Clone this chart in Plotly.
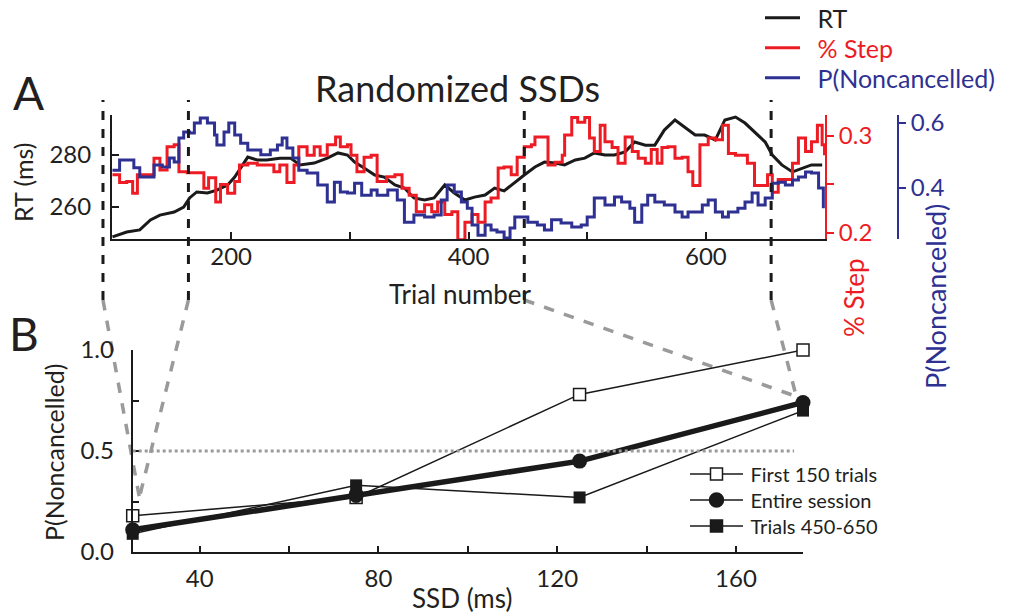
import plotly.graph_objects as go

# ---------------- Panel A data ----------------
rt_trial = [100, 112, 123, 132, 140, 152, 160, 165, 171, 180, 188, 197, 203, 208, 214, 222, 230, 241, 250,
            258, 270, 281, 290, 298, 304, 312, 321, 329, 338, 346, 354, 363, 371, 380, 388, 397, 405, 414,
            422, 430, 439, 447, 456, 464, 473, 481, 490, 498, 506, 515, 523, 532, 540, 549, 557, 565, 574,
            582, 591, 599, 608, 616, 625, 633, 641, 650, 656, 664, 673, 681, 689, 698]
rt_ms = [248.5, 250.4, 251.2, 255.0, 256.9, 258.1, 260.0, 263.5, 265.8, 265.4, 266.5, 268.5, 271.5, 275.0,
         279.2, 278.1, 278.1, 278.8, 278.8, 276.2, 276.9, 278.8, 280.8, 280.0, 277.3, 275.0, 272.3, 271.5,
         268.5, 267.3, 263.5, 262.7, 263.5, 268.5, 265.4, 262.7, 263.8, 264.6, 267.3, 266.2, 269.6, 272.3,
         275.4, 277.3, 276.9, 276.2, 278.1, 278.8, 280.8, 280.0, 280.0, 281.2, 285.0, 283.8, 283.8, 289.6,
         293.5, 290.8, 287.7, 287.7, 285.8, 293.5, 294.6, 292.3, 288.8, 285.0, 280.0, 276.2, 273.5, 275.0,
         276.2, 276.2]

step_trial = [100, 106, 112, 117, 121, 129, 135, 140, 146, 152, 156, 163, 171, 177, 181, 187, 191, 197, 203,
              207, 214, 222, 230, 236, 241, 247, 253, 257, 264, 270, 275, 281, 288, 292, 298, 301, 306, 312,
              318, 323, 331, 338, 344, 350, 356, 363, 369, 374, 380, 386, 391, 397, 403, 408, 414, 419, 425,
              430, 436, 441, 447, 453, 456, 462, 467, 473, 479, 481, 487, 492, 498, 502, 506, 511, 515, 521,
              526, 532, 538, 543, 549, 554, 559, 563, 568, 574, 580, 585, 589, 595, 602, 608, 614, 619, 625,
              630, 635, 641, 647, 652, 656, 661, 667, 673, 678, 684, 689, 694, 698, 700]
step_frac = [0.260, 0.252, 0.253, 0.241, 0.260, 0.260, 0.277, 0.265, 0.289, 0.291, 0.263, 0.262, 0.262,
             0.246, 0.257, 0.232, 0.250, 0.241, 0.253, 0.270, 0.272, 0.270, 0.270, 0.263, 0.270, 0.252,
             0.270, 0.289, 0.280, 0.289, 0.280, 0.291, 0.299, 0.289, 0.291, 0.280, 0.263, 0.278, 0.280,
             0.253, 0.258, 0.260, 0.246, 0.239, 0.222, 0.229, 0.222, 0.232, 0.219, 0.222, 0.193, 0.211,
             0.219, 0.211, 0.232, 0.236, 0.267, 0.268, 0.260, 0.278, 0.289, 0.291, 0.299, 0.299, 0.270,
             0.273, 0.280, 0.301, 0.319, 0.314, 0.319, 0.298, 0.284, 0.311, 0.294, 0.288, 0.272, 0.299,
             0.284, 0.277, 0.272, 0.286, 0.272, 0.288, 0.289, 0.277, 0.278, 0.263, 0.249, 0.291, 0.298,
             0.296, 0.311, 0.282, 0.280, 0.280, 0.272, 0.249, 0.249, 0.260, 0.242, 0.255, 0.255, 0.272,
             0.298, 0.284, 0.294, 0.311, 0.291, 0.280]

pnc_trial = [100, 106, 115, 118, 123, 129, 135, 142, 148, 152, 156, 160, 165, 169, 174, 180, 186, 188, 194,
             198, 203, 208, 214, 219, 225, 233, 239, 243, 247, 252, 257, 264, 273, 281, 287, 292, 298, 304,
             310, 318, 323, 332, 340, 346, 354, 363, 371, 377, 382, 388, 394, 399, 403, 408, 414, 419, 424,
             430, 435, 439, 446, 450, 458, 464, 470, 478, 487, 495, 500, 506, 515, 523, 529, 536, 540, 546,
             551, 557, 565, 574, 580, 585, 591, 597, 602, 608, 614, 619, 627, 633, 639, 644, 650, 656, 661,
             667, 673, 678, 684, 689, 695, 699]
pnc_prob = [0.455, 0.486, 0.486, 0.462, 0.434, 0.434, 0.471, 0.465, 0.492, 0.480, 0.554, 0.572, 0.569,
            0.600, 0.615, 0.600, 0.563, 0.532, 0.572, 0.600, 0.563, 0.538, 0.517, 0.517, 0.502, 0.517,
            0.532, 0.554, 0.523, 0.492, 0.455, 0.446, 0.409, 0.357, 0.418, 0.388, 0.385, 0.415, 0.378,
            0.394, 0.378, 0.394, 0.363, 0.295, 0.317, 0.311, 0.317, 0.363, 0.409, 0.388, 0.357, 0.338,
            0.286, 0.255, 0.286, 0.271, 0.265, 0.246, 0.277, 0.311, 0.311, 0.295, 0.286, 0.271, 0.302,
            0.292, 0.280, 0.286, 0.311, 0.369, 0.348, 0.372, 0.357, 0.338, 0.295, 0.348, 0.378, 0.357,
            0.348, 0.326, 0.311, 0.326, 0.326, 0.348, 0.363, 0.326, 0.311, 0.326, 0.338, 0.357, 0.385,
            0.348, 0.369, 0.415, 0.418, 0.409, 0.425, 0.434, 0.449, 0.446, 0.400, 0.338]

# trial positions of the dashed window markers
window_trials = [92, 164, 447, 655]

# ---------------- Panel B data ----------------
ssd = [25, 75, 125, 175]
first150 = [0.18, 0.27, 0.78, 1.00]
entire = [0.11, 0.28, 0.45, 0.74]
trials450_650 = [0.09, 0.33, 0.27, 0.70]

# ---------------- styles ----------------
W, H = 1026, 616
FONT = "Lato"
TXT = "#231f20"
BLACK = "#1a1a1a"
RED = "#ed1c24"
BLUE = "#2e3192"
GREY = "#9a9a9a"

XA_DOM = [112 / W, 825 / W]
XA_RNG = [99.6, 700.4]
YA_DOM = [1 - 239 / H, 1 - 115 / H]
XB_DOM = [132.7 / W, 803 / W]
XB_RNG = [25, 175]
YB_DOM = [1 - 552 / H, 1 - 350 / H]
YB_RNG = [0, 1]


def lin(v, rng, dom):
    return dom[0] + (v - rng[0]) / (rng[1] - rng[0]) * (dom[1] - dom[0])


fig = go.Figure()

# Panel A traces
fig.add_trace(go.Scatter(x=rt_trial, y=rt_ms, mode="lines", name="\u2002RT",
                         line=dict(color=BLACK, width=3), xaxis="x", yaxis="y", legend="legend"))
fig.add_trace(go.Scatter(x=pnc_trial, y=pnc_prob, mode="lines",
                         name=f"\u2002<span style='color:{BLUE}'>P(Noncancelled)</span>",
                         line=dict(color=BLUE, width=3, shape="hv"), xaxis="x", yaxis="y3",
                         legend="legend3"))
fig.add_trace(go.Scatter(x=step_trial, y=step_frac, mode="lines",
                         name=f"\u2002<span style='color:{RED}'>% Step</span>",
                         line=dict(color=RED, width=3, shape="hv"), xaxis="x", yaxis="y2",
                         legend="legend2"))

# Panel B traces
fig.add_trace(go.Scatter(x=ssd, y=first150, mode="lines+markers", showlegend=False,
                         line=dict(color=BLACK, width=1.5),
                         marker=dict(symbol="square", size=12, color="white",
                                     line=dict(color=BLACK, width=1.5)),
                         xaxis="x2", yaxis="y4", cliponaxis=False))
fig.add_trace(go.Scatter(x=ssd, y=trials450_650, mode="lines+markers", showlegend=False,
                         line=dict(color=BLACK, width=1.5),
                         marker=dict(symbol="square", size=12, color=BLACK),
                         xaxis="x2", yaxis="y4", cliponaxis=False))
fig.add_trace(go.Scatter(x=ssd, y=entire, mode="lines+markers", showlegend=False,
                         line=dict(color=BLACK, width=5.5),
                         marker=dict(symbol="circle", size=15, color=BLACK),
                         xaxis="x2", yaxis="y4", cliponaxis=False))
# legend proxies for panel B (thin lines in the key)
for nm, sym, fc, lg in [("First 150 trials", "square", "white", "legend4"),
                        ("Entire session", "circle", BLACK, "legend5"),
                        ("Trials 450-650", "square", BLACK, "legend6")]:
    fig.add_trace(go.Scatter(x=[None], y=[None], mode="lines+markers", name="\u2009" + nm,
                             line=dict(color=BLACK, width=1.5),
                             marker=dict(symbol=sym, size=12 if sym == "square" else 14, color=fc,
                                         line=dict(color=BLACK, width=1.5)),
                             xaxis="x2", yaxis="y4", legend=lg))

axis_common = dict(showgrid=False, zeroline=False, showline=True, linewidth=2, automargin=False,
                   tickfont=dict(family=FONT, size=24, color=TXT))


def leg(x, y, size, iw):
    return dict(x=x / W, y=1 - y / H, xanchor="left", yanchor="middle",
                font=dict(family=FONT, size=size, color=TXT), bgcolor="rgba(0,0,0,0)",
                itemwidth=iw, borderwidth=0)


fig.update_layout(
    width=W, height=H, margin=dict(l=0, r=0, t=0, b=0, pad=0, autoexpand=False),
    paper_bgcolor="white", plot_bgcolor="white",
    font=dict(family=FONT, color=TXT),
    xaxis=dict(domain=XA_DOM, range=XA_RNG, anchor="y", linecolor=BLACK,
               ticks="inside", ticklen=7, tickwidth=2, tickcolor=BLACK,
               tickvals=[200, 300, 400, 500, 600], ticktext=["200", "", "400", "", "600"],
               ticklabelstandoff=-5, **axis_common),
    yaxis=dict(domain=YA_DOM, range=[247.7, 295.4], anchor="x", linecolor=BLACK,
               ticks="inside", ticklen=7, tickwidth=2, tickcolor=BLACK,
               tickvals=[260, 280], ticklabelstandoff=14, **axis_common),
    yaxis2=dict(range=[0.1938, 0.3216], overlaying="y", side="right", anchor="x",
                linecolor=RED, ticks="outside", ticklen=7, tickwidth=2, tickcolor=RED,
                tickvals=[0.2, 0.25, 0.3], ticktext=["0.2", "", "0.3"], automargin=False,
                showgrid=False, zeroline=False, showline=True, linewidth=2,
                tickfont=dict(family=FONT, size=24, color=RED)),
    yaxis3=dict(range=[0.2431, 0.6246], overlaying="y", side="right", anchor="free",
                position=898 / W, linecolor=BLUE, ticks="outside", ticklen=7, tickwidth=2,
                tickcolor=BLUE, tickvals=[0.4, 0.6], ticktext=["0.4", "0.6"], automargin=False,
                showgrid=False, zeroline=False, showline=True, linewidth=2,
                tickfont=dict(family=FONT, size=24, color=BLUE)),
    xaxis2=dict(domain=XB_DOM, range=XB_RNG, anchor="y4", linecolor=BLACK,
                ticks="inside", ticklen=6, tickwidth=1.5, tickcolor=BLACK,
                tickvals=[40, 60, 80, 100, 120, 140, 160],
                ticktext=["40", "", "80", "", "120", "", "160"], ticklabelstandoff=4,
                **axis_common),
    yaxis4=dict(domain=YB_DOM, range=YB_RNG, anchor="x2", linecolor=BLACK,
                ticks="inside", ticklen=6, tickwidth=1.5, tickcolor=BLACK,
                tickvals=[0, 0.25, 0.5, 0.75, 1.0], ticktext=["0.0", "", "0.5", "", "1.0"],
                ticklabelstandoff=12, **axis_common),
    legend=leg(760, 18, 25, 35),
    legend2=leg(760, 48, 25, 35),
    legend3=leg(760, 78, 25, 35),
    legend4=leg(685, 474, 20, 53),
    legend5=leg(685, 500, 20, 53),
    legend6=leg(685, 526, 20, 53),
)

shapes = []
# 0.5 reference line in panel B
shapes.append(dict(type="line", xref="x2", yref="y4", x0=25, x1=173, y0=0.5, y1=0.5,
                   line=dict(color=GREY, width=3, dash="dot")))
# dashed window markers in panel A
top_p, bot_p = 1 - 100 / H, 1 - 300 / H
wx = [lin(t, XA_RNG, XA_DOM) for t in window_trials]
for x in wx:
    shapes.append(dict(type="line", xref="paper", yref="paper", x0=x, x1=x, y0=bot_p, y1=top_p,
                       line=dict(color=BLACK, width=3, dash="dash"), layer="above"))
# grey connectors to panel B
left_end = (lin(ssd[0] + 1.5, XB_RNG, XB_DOM), lin(0.27, YB_RNG, YB_DOM))
right_end = (lin(ssd[-1] - 1.5, XB_RNG, XB_DOM), lin(entire[-1] + 0.03, YB_RNG, YB_DOM))
for x, end in [(wx[0], left_end), (wx[1], left_end), (wx[2], right_end), (wx[3], right_end)]:
    shapes.append(dict(type="line", xref="paper", yref="paper", x0=x, y0=bot_p, x1=end[0], y1=end[1],
                       line=dict(color=GREY, width=3.5, dash="dash"), layer="below"))
fig.update_layout(shapes=shapes)


def ann(text, x, y, size, color=TXT, angle=0):
    fig.add_annotation(text=text, x=x / W, y=1 - y / H, xref="paper", yref="paper",
                       showarrow=False, textangle=angle, xanchor="center", yanchor="middle",
                       font=dict(family=FONT, size=size, color=color))


ann("A", 28, 92, 46)
ann("B", 24, 333, 46)
ann("Randomized SSDs", 457, 88, 36)
ann("RT (ms)", 23, 183, 25, angle=-90)
ann("Trial number", 460, 294, 26)
ann("% Step", 854, 298, 26, color=RED, angle=-90)
ann("P(Noncanceled)", 935, 297, 27, color=BLUE, angle=-90)
ann("P(Noncancelled)", 54, 453, 25, angle=-90)
ann("SSD (ms)", 462, 598, 26)

fig.write_html(
    "out.html",
    config={"displayModeBar": False},
    post_script=("var s=document.documentElement.style;s.margin='0';s.overflow='hidden';"
                 "var b=document.body.style;b.margin='0';b.overflow='hidden';"),
)
